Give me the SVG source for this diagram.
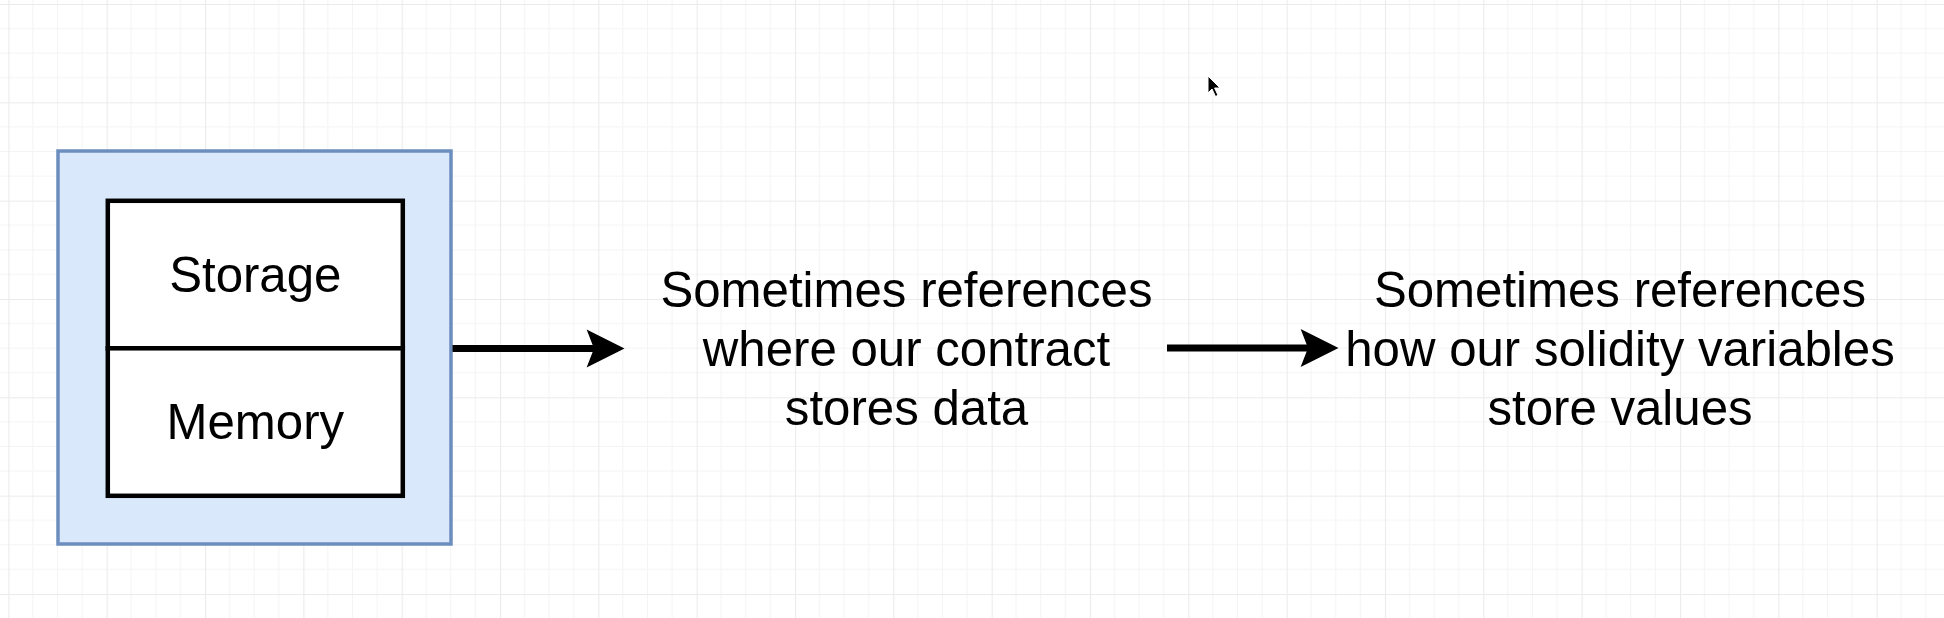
<svg xmlns="http://www.w3.org/2000/svg" width="1944" height="618" viewBox="0 0 1944 618">
  <style>
    .lbl { font-family: "Liberation Sans", Arial, Helvetica, sans-serif; font-size: 49.2px; fill: #000000; text-anchor: middle; }
    .minor { stroke: #f4f4f4; stroke-width: 1; }
    .major { stroke: #ebebeb; stroke-width: 1.2; }
    .conn { stroke: #000000; stroke-width: 7; fill: none; }
  </style>
  <defs>
    <pattern id="grid" patternUnits="userSpaceOnUse" x="8.33" y="4" width="98.33" height="98.33">
      <line class="minor" x1="24.58" y1="0" x2="24.58" y2="98.33"/>
      <line class="minor" x1="49.17" y1="0" x2="49.17" y2="98.33"/>
      <line class="minor" x1="73.75" y1="0" x2="73.75" y2="98.33"/>
      <line class="minor" x1="0" y1="24.58" x2="98.33" y2="24.58"/>
      <line class="minor" x1="0" y1="49.17" x2="98.33" y2="49.17"/>
      <line class="minor" x1="0" y1="73.75" x2="98.33" y2="73.75"/>
      <line class="major" x1="0.5" y1="0" x2="0.5" y2="98.33"/>
      <line class="major" x1="0" y1="0.5" x2="98.33" y2="0.5"/>
    </pattern>
    <marker id="arrow" markerUnits="userSpaceOnUse" markerWidth="40" markerHeight="40" viewBox="-37 -19 38 38" refX="-29" refY="0" orient="auto">
      <path d="M0,0 L-36,-18 L-29,0 L-36,18 Z" fill="#000000"/>
    </marker>
  </defs>

  <rect width="1944" height="618" fill="#ffffff"/>
  <rect width="1944" height="618" fill="url(#grid)"/>

  <g id="container">
    <rect x="58" y="151" width="393" height="393" fill="#dae8fc" stroke="#6c8ebf" stroke-width="3.5"/>
  </g>

  <g id="storage">
    <rect x="107.8" y="200.8" width="295" height="147.5" fill="#ffffff" stroke="#000000" stroke-width="4.5"/>
    <text class="lbl" x="255.3" y="292">Storage</text>
  </g>

  <g id="memory">
    <rect x="107.8" y="348.3" width="295" height="147.5" fill="#ffffff" stroke="#000000" stroke-width="4.5"/>
    <text class="lbl" x="255.3" y="439">Memory</text>
  </g>

  <g id="contract-text">
    <text class="lbl" x="906.5" y="307">Sometimes references</text>
    <text class="lbl" x="906.5" y="366">where our contract</text>
    <text class="lbl" x="906.5" y="425">stores data</text>
  </g>

  <g id="variables-text">
    <text class="lbl" x="1620" y="307">Sometimes references</text>
    <text class="lbl" x="1620" y="366">how our solidity variables</text>
    <text class="lbl" x="1620" y="425">store values</text>
  </g>

  <g id="connectors">
    <line class="conn" x1="452.5" y1="348.5" x2="594" y2="348.5" marker-end="url(#arrow)"/>
    <line class="conn" x1="1167" y1="348" x2="1308" y2="348" marker-end="url(#arrow)"/>
  </g>

  <g id="cursor">
    <path d="M1208,76 L1208,93 L1212,89 L1215.5,96.5 L1218,95.3 L1214.6,88 L1220,88 Z" fill="#000000" stroke="#ffffff" stroke-width="1" stroke-linejoin="round"/>
  </g>
</svg>
